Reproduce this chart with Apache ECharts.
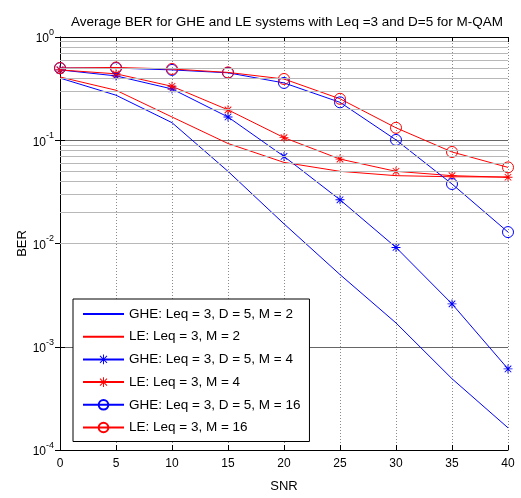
<!DOCTYPE html>
<html>
<head>
<meta charset="utf-8">
<script src="https://cdn.jsdelivr.net/npm/echarts@6/dist/echarts.min.js"></script>
<style>html,body{margin:0;padding:0;background:#fff}#c{width:521px;height:498px}</style>
</head>
<body>
<div id="c"></div>
<script>
const snr = [0, 5, 10, 15, 20, 25, 30, 35, 40];
const gheM2  = [0.40, 0.273, 0.148, 0.050, 0.0155, 0.0050, 0.0017, 0.00049, 0.000164];
const leM2   = [0.41, 0.305, 0.168, 0.093, 0.061, 0.050, 0.0454, 0.0443, 0.044];
const gheM4  = [0.48, 0.42, 0.314, 0.168, 0.0697, 0.0265, 0.00916, 0.0026, 0.00061];
const leM4   = [0.48, 0.44, 0.333, 0.197, 0.106, 0.0657, 0.050, 0.0454, 0.0438];
const gheM16 = [0.50, 0.50, 0.48, 0.45, 0.359, 0.233, 0.1007, 0.0377, 0.0129];
const leM16  = [0.50, 0.507, 0.49, 0.454, 0.392, 0.252, 0.132, 0.077, 0.0546];
const names = ['GHE: Leq = 3, D = 5, M = 2', 'LE: Leq = 3, M = 2', 'GHE: Leq = 3, D = 5, M = 4', 'LE: Leq = 3, M = 4', 'GHE: Leq = 3, D = 5, M = 16', 'LE: Leq = 3, M = 16'];
const xTicks = [0, 5, 10, 15, 20, 25, 30, 35, 40];
const decades = [-4, -3, -2, -1];

const minorVals = [];
decades.forEach(e => { for (let k = 2; k <= 9; k++) minorVals.push(k * Math.pow(10, e)); });

const FONT = 'Liberation Sans, Arial, Helvetica, sans-serif';
const star = 'path://M4.5 0h1v10h-1zM0 4.5h10v1h-10zM1 1.7L1.7 1L9 8.3L8.3 9zM8.3 1L9 1.7L1.7 9L1 8.3z';
const BLUE = '#0000ff', RED = '#ff0000';

function pts(arr) { return snr.map((x, i) => [x, arr[i]]); }
function mk(name, arr, color, sym) {
  const s = {
    name, type: 'line', data: pts(arr), z: 3,
    lineStyle: { color, width: 1 },
    itemStyle: { color },
    emphasis: { disabled: true },
    animation: false
  };
  if (sym === 'none') { s.symbol = 'none'; s.showSymbol = false; }
  else if (sym === 'star') { s.symbol = star; s.symbolSize = 9; s.itemStyle = { color }; }
  else { s.symbol = 'circle'; s.symbolSize = 11; s.itemStyle = { color: 'rgba(0,0,0,0)', borderColor: color, borderWidth: 1 }; }
  return s;
}

const legendData = names.map((n, i) => i < 2
  ? { name: n, itemStyle: { opacity: 0 } }
  : { name: n });

const chart = echarts.init(document.getElementById('c'), null, { renderer: 'canvas' });
chart.setOption({
  backgroundColor: '#fff',
  animation: false,
  textStyle: { fontFamily: FONT },
  title: {
    text: 'Average BER for GHE and LE systems with Leq =3 and D=5 for M-QAM',
    left: 66, top: 10,
    textStyle: { fontFamily: FONT, fontSize: 13.5, fontWeight: 'normal', color: '#000' }
  },
  grid: { left: 60, right: 13, top: 37, bottom: 45 },
  legend: {
    data: legendData, orient: 'vertical', left: 73, top: 299,
    itemWidth: 41, itemHeight: 12, itemGap: 8.7,
    padding: [8, 9, 7, 9],
    backgroundColor: '#fff', borderColor: '#000', borderWidth: 1,
    textStyle: { fontFamily: FONT, fontSize: 13.5, color: '#000' },
    selectedMode: false
  },
  xAxis: [{
    type: 'value', min: 0, max: 40, interval: 5,
    name: 'SNR', nameLocation: 'middle', nameGap: 30, nameMoveOverlap: false,
    nameTextStyle: { fontFamily: FONT, fontSize: 13, color: '#000' },
    axisLine: { lineStyle: { color: '#000', width: 1 } },
    axisTick: { inside: true, length: 5, lineStyle: { color: '#000' } },
    axisLabel: { fontFamily: FONT, fontSize: 12, color: '#000', margin: 8,
      formatter: v => xTicks.indexOf(v) >= 0 ? String(v) : '' },
    splitLine: { show: true, lineStyle: { color: '#8a8a8a', type: [1, 2], width: 1 } }
  }, {
    type: 'value', min: 0, max: 40, interval: 5, position: 'top',
    axisLine: { lineStyle: { color: '#000', width: 1 } },
    axisTick: { inside: true, length: 5, lineStyle: { color: '#000' } },
    axisLabel: { show: false }, splitLine: { show: false }
  }],
  yAxis: [{
    type: 'log', logBase: 10, min: 1e-4, max: 1,
    name: 'BER', nameLocation: 'middle', nameGap: 31, nameRotate: 90, nameMoveOverlap: false,
    nameTextStyle: { fontFamily: FONT, fontSize: 13, color: '#000' },
    axisLine: { show: true, lineStyle: { color: '#000', width: 1 } },
    axisTick: { show: true, inside: true, length: 5, lineStyle: { color: '#000' } },
    axisLabel: {
      margin: 6, color: '#000',
      formatter: v => '{b|10}{e|' + Math.round(Math.log10(v)) + '}',
      rich: {
        b: { fontFamily: FONT, fontSize: 12, color: '#000', padding: [4, 0, 0, 0] },
        e: { fontFamily: FONT, fontSize: 9, color: '#000', padding: [0, 0, 9, 0] }
      }
    },
    splitLine: { show: true, lineStyle: { color: '#666', width: 1 } }
  }, {
    type: 'log', logBase: 10, min: 1e-4, max: 1, position: 'right',
    axisLine: { show: true, lineStyle: { color: '#000', width: 1 } },
    axisTick: { show: true, inside: true, length: 5, lineStyle: { color: '#000' } },
    axisLabel: { show: false }, splitLine: { show: false }
  }],
  series: [
    {
      name: 'minor', type: 'line', data: [], z: 1, silent: true,
      markLine: {
        silent: true, symbol: 'none', animation: false,
        label: { show: false },
        lineStyle: { color: '#b8b8b8', type: 'solid', width: 1 },
        emphasis: { disabled: true },
        data: minorVals.map(v => ({ yAxis: v }))
      }
    },
    mk(names[0], gheM2, BLUE, 'none'),
    mk(names[1], leM2, RED, 'none'),
    mk(names[2], gheM4, BLUE, 'star'),
    mk(names[3], leM4, RED, 'star'),
    mk(names[4], gheM16, BLUE, 'circle'),
    mk(names[5], leM16, RED, 'circle')
  ]
});
</script>
</body>
</html>
